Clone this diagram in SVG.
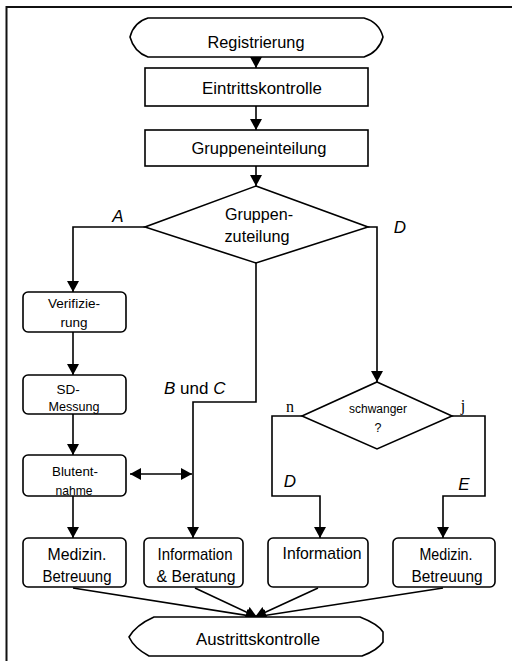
<svg xmlns="http://www.w3.org/2000/svg" width="512" height="661" viewBox="0 0 512 661">
<style>
.s{fill:#fff;stroke:#000;stroke-width:1.6}
.c{fill:none;stroke:#000;stroke-width:1.6}
text{font-family:"Liberation Sans",Arial,sans-serif;fill:#000;text-anchor:middle}
.m{font-size:17px}
.sm{font-size:13.5px}
.xs{font-size:12.5px}
.it{font-size:17px;font-style:italic}
.sf{font-family:"Liberation Serif","Times New Roman",serif;font-size:16px}
</style>
<defs>
<marker id="ah" viewBox="0 0 11 12" refX="11" refY="6" markerWidth="11" markerHeight="12" markerUnits="userSpaceOnUse" orient="auto-start-reverse">
<path d="M0,0 L11,6 L0,12 z" fill="#000"/>
</marker>
</defs>
<rect width="512" height="661" fill="#fff"/>
<path d="M6.5,661 L6.5,7 L512,7" fill="none" stroke="#111" stroke-width="2"/>

<g id="connectors" class="c">
<path d="M256,57 L256,68" marker-end="url(#ah)"/>
<path d="M256,106 L256,130" marker-end="url(#ah)"/>
<path d="M256,166 L256,186" marker-end="url(#ah)"/>
<path d="M145,227 L73,227 L73,292" marker-end="url(#ah)"/>
<path d="M73,332 L73,375" marker-end="url(#ah)"/>
<path d="M73,414 L73,455" marker-end="url(#ah)"/>
<path d="M73,496 L73,538" marker-end="url(#ah)"/>
<path d="M256,263 L256,402 L193,402 L193,538" marker-end="url(#ah)"/>
<path d="M368,227 L377,227 L377,382" marker-end="url(#ah)"/>
<path d="M302,416 L272,416 L272,496 L320,496 L320,538" marker-end="url(#ah)"/>
<path d="M452,416 L485,416 L485,496 L443,496 L443,538" marker-end="url(#ah)"/>
<path d="M130,474 L192,474" marker-start="url(#ah)" marker-end="url(#ah)"/>
<path d="M73,588 L257,617" marker-end="url(#ah)"/>
<path d="M195,588 L257,617" marker-end="url(#ah)"/>
<path d="M318,588 L255,617" marker-end="url(#ah)"/>
<path d="M443,588 L255,617" marker-end="url(#ah)"/>
</g>

<g id="registrierung">
<path class="s" d="M148,18 L364,18 Q379,22 383,37 Q379,52 364,57 L148,57 Q134,52 130,37 Q134,22 148,18 Z"/>
<text class="m" x="256" y="48" textLength="97" lengthAdjust="spacingAndGlyphs">Registrierung</text>
</g>

<g id="eintrittskontrolle">
<rect class="s" x="145" y="68" width="223" height="38"/>
<text class="m" x="262" y="94" textLength="120" lengthAdjust="spacingAndGlyphs">Eintrittskontrolle</text>
</g>

<g id="gruppeneinteilung">
<rect class="s" x="145" y="130" width="223" height="36"/>
<text class="m" x="259" y="154" textLength="135" lengthAdjust="spacingAndGlyphs">Gruppeneinteilung</text>
</g>

<g id="gruppenzuteilung">
<path class="s" d="M256,186 L368,227 L256,263 L145,227 Z"/>
<text class="m" x="259" y="220" textLength="68" lengthAdjust="spacingAndGlyphs">Gruppen-</text>
<text class="m" x="257" y="242" textLength="65" lengthAdjust="spacingAndGlyphs">zuteilung</text>
</g>

<g id="labels">
<text class="it" x="118" y="222">A</text>
<text class="it" x="400" y="233">D</text>
<text style="font-size:17px;text-anchor:start" x="164" y="394"><tspan font-style="italic">B</tspan> und <tspan font-style="italic">C</tspan></text>
<text class="sf" x="290" y="412">n</text>
<text class="sf" x="463" y="411">j</text>
<text class="it" x="290" y="487">D</text>
<text class="it" x="464" y="490">E</text>
</g>

<g id="verifizierung">
<rect class="s" x="23" y="292" width="103" height="40" rx="5"/>
<text class="sm" x="74" y="308" textLength="52" lengthAdjust="spacingAndGlyphs">Verifizie-</text>
<text class="sm" x="74" y="327">rung</text>
</g>

<g id="sd-messung">
<rect class="s" x="23" y="375" width="103" height="39" rx="5"/>
<text class="sm" x="68" y="394">SD-</text>
<text class="sm" x="74" y="411" textLength="51" lengthAdjust="spacingAndGlyphs">Messung</text>
</g>

<g id="blutentnahme">
<rect class="s" x="23" y="455" width="103" height="41" rx="5"/>
<text class="sm" x="75" y="476" textLength="46" lengthAdjust="spacingAndGlyphs">Blutent-</text>
<text class="sm" x="74" y="495" textLength="37" lengthAdjust="spacingAndGlyphs">nahme</text>
</g>

<g id="schwanger">
<path class="s" d="M377,382 L452,416 L377,449 L302,416 Z"/>
<text class="xs" x="378" y="413" textLength="58" lengthAdjust="spacingAndGlyphs">schwanger</text>
<text class="xs" x="378" y="432">?</text>
</g>

<g id="medizin-links">
<rect class="s" x="23" y="538" width="103" height="49" rx="5"/>
<text class="m" x="77" y="560" textLength="59" lengthAdjust="spacingAndGlyphs">Medizin.</text>
<text class="m" x="77" y="582" textLength="69" lengthAdjust="spacingAndGlyphs">Betreuung</text>
</g>

<g id="information-beratung">
<rect class="s" x="144" y="538" width="99" height="49" rx="5"/>
<text class="m" x="195" y="560" textLength="75" lengthAdjust="spacingAndGlyphs">Information</text>
<text class="m" x="196" y="582" textLength="79" lengthAdjust="spacingAndGlyphs">&amp; Beratung</text>
</g>

<g id="information">
<rect class="s" x="268" y="538" width="100" height="49" rx="5"/>
<text class="m" x="322" y="559" textLength="79" lengthAdjust="spacingAndGlyphs">Information</text>
</g>

<g id="medizin-rechts">
<rect class="s" x="393" y="538" width="102" height="49" rx="5"/>
<text class="m" x="446" y="560" textLength="53" lengthAdjust="spacingAndGlyphs">Medizin.</text>
<text class="m" x="447" y="582" textLength="71" lengthAdjust="spacingAndGlyphs">Betreuung</text>
</g>

<g id="austrittskontrolle">
<path class="s" d="M154,617 L360,617 Q378,624 383,632 L383,642 Q378,650 362,656 L149,656 Q134,648 129,637 Q136,625 154,617 Z"/>
<text class="m" x="258" y="645" textLength="124" lengthAdjust="spacingAndGlyphs">Austrittskontrolle</text>
</g>
</svg>
